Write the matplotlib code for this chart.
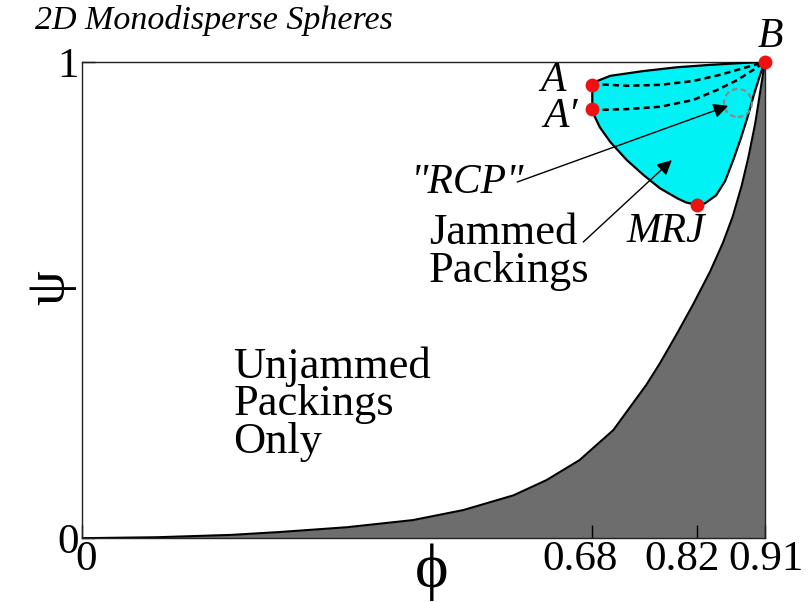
import matplotlib
matplotlib.use("Agg")
import matplotlib.pyplot as plt
import matplotlib.transforms as mtransforms
from matplotlib.patches import Ellipse, Polygon
import numpy as np

# lower boundary of the allowed region (grey = impossible packings)
bound_phi = [0.0, 0.1, 0.2, 0.264, 0.353, 0.441, 0.508, 0.575, 0.619, 0.663,
             0.708, 0.752, 0.770, 0.793, 0.814, 0.837, 0.854, 0.867, 0.879,
             0.888, 0.897, 0.903, 0.91]
bound_psi = [0.0, 0.002, 0.007, 0.013, 0.023, 0.038, 0.059, 0.090, 0.122, 0.164,
             0.227, 0.322, 0.367, 0.430, 0.490, 0.560, 0.620, 0.675, 0.740,
             0.800, 0.870, 0.930, 1.0]

# jammed region: upper edge A -> B, lower edge A' -> MRJ -> B
upper_phi = [0.68, 0.704, 0.748, 0.793, 0.837, 0.881, 0.91]
upper_psi = [0.956, 0.971, 0.981, 0.989, 0.994, 0.998, 1.0]
lower_phi = [0.68, 0.681, 0.690, 0.704, 0.726, 0.748, 0.770, 0.793, 0.805,
             0.82, 0.83, 0.845, 0.857, 0.868, 0.878, 0.887, 0.896, 0.904, 0.91]
lower_psi = [0.901, 0.893, 0.863, 0.832, 0.794, 0.763, 0.735, 0.714, 0.705,
             0.70, 0.703, 0.72, 0.75, 0.795, 0.84, 0.885, 0.935, 0.975, 1.0]

# dashed paths A -> B and A' -> B
dash1_phi = [0.68, 0.726, 0.770, 0.814, 0.850, 0.881, 0.91]
dash1_psi = [0.954, 0.950, 0.952, 0.960, 0.973, 0.987, 1.0]
dash2_phi = [0.68, 0.726, 0.770, 0.814, 0.846, 0.873, 0.894, 0.91]
dash2_psi = [0.899, 0.901, 0.906, 0.920, 0.941, 0.962, 0.983, 1.0]

# special points
pt_names = ["A", "A'", "B", "MRJ"]
pt_phi = [0.68, 0.68, 0.91, 0.82]
pt_psi = [0.952, 0.901, 1.0, 0.70]

rcp_phi, rcp_psi = 0.874, 0.914

xtick_vals = [0, 0.68, 0.82, 0.91]
xtick_labels = ["0", "0.68", "0.82", "0.91"]
ytick_vals = [0, 1]
ytick_labels = ["0", "1"]

serif = ["Liberation Serif", "DejaVu Serif"]
plt.rcParams["font.family"] = serif

fig = plt.figure(figsize=(8.12, 6.02), dpi=100)
ax = fig.add_axes([0.101, 0.106, 0.841, 0.791])

# grey forbidden region
ax.fill_between(bound_phi, 0, bound_psi, color="#6d6d6d", lw=0, zorder=1)
ax.plot(bound_phi, bound_psi, color="black", lw=1.5, zorder=2,
        solid_joinstyle="round")

# cyan jammed region
poly_x = upper_phi + lower_phi[::-1]
poly_y = upper_psi + lower_psi[::-1]
ax.add_patch(Polygon(np.column_stack([poly_x, poly_y]), closed=True,
                     facecolor="#00f2f5", edgecolor="black", lw=1.6,
                     joinstyle="round", zorder=3))

ax.plot(dash1_phi, dash1_psi, color="black", ls=(0, (2.5, 1.6)), lw=1.8, zorder=4)
ax.plot(dash2_phi, dash2_psi, color="black", ls=(0, (2.5, 1.6)), lw=1.8, zorder=4)

ax.add_patch(Ellipse((rcp_phi, rcp_psi), 28 / 750.5, 28 / 476.0, fill=False,
                     edgecolor="#8a8a8a", ls=(0, (2.5, 1.5)), lw=1.6, zorder=5))

ax.plot(pt_phi, pt_psi, "o", color="#ee1111", ms=10, mec="none",
        clip_on=False, zorder=6)

# arrows
arrow = dict(arrowstyle="-|>", color="black", lw=1.0, mutation_scale=22,
             shrinkA=0, shrinkB=0)
ax.annotate("", xy=(0.861, 0.908), xytext=(0.580, 0.748), arrowprops=arrow,
            zorder=7)
ax.annotate("", xy=(0.786, 0.794), xytext=(0.668, 0.622), arrowprops=arrow,
            zorder=7)

# labels
ax.text(0.645, 0.960, "A", style="italic", fontsize=30, ha="right", va="center")
ax.text(0.660, 0.885, "A\u2032", style="italic", fontsize=30, ha="right", va="center")
ax.text(0.917, 1.052, "B", style="italic", fontsize=30, ha="center", va="center",
        clip_on=False)
ax.text(0.778, 0.643, "MRJ", style="italic", fontsize=30, ha="center", va="center")
ax.text(0.513, 0.746, '"RCP"', style="italic", fontsize=30, ha="center", va="center")
ax.text(0.462, 0.683, "Jammed\nPackings", fontsize=32, ha="left", va="top",
        linespacing=0.95)
ax.text(0.202, 0.403, "Unjammed\nPackings\nOnly", fontsize=32, ha="left",
        va="top", linespacing=0.92)

fig.text(35 / 812, 1 - 20 / 602, "2D Monodisperse Spheres", style="italic",
         fontsize=24.5, ha="left", va="center")
fig.text(50 / 812, 1 - 288 / 602, "\u03c8", fontsize=40, rotation=90,
         ha="center", va="center")
fig.text(432 / 812, 1 - 572 / 602, "\u03d5", fontsize=46, ha="center",
         va="center")

ax.set_xlim(0, 0.91)
ax.set_ylim(0, 1)
ax.set_xticks(xtick_vals)
ax.set_xticklabels(xtick_labels, fontsize=31)
ax.set_yticks(ytick_vals)
ax.set_yticklabels(ytick_labels, fontsize=31)
ax.tick_params(direction="in", length=9.5, width=1.0, pad=2)

# nudge x tick labels like the original
shifts = [4, -12, -15, 1]
for lab, dx in zip(ax.get_xticklabels(), shifts):
    lab.set_transform(lab.get_transform() +
                      mtransforms.ScaledTranslation(dx / 100, 0, fig.dpi_scale_trans))

for s in ax.spines.values():
    s.set_linewidth(1.0)
    s.set_color("#222222")

fig.savefig("out.png", dpi=100)
